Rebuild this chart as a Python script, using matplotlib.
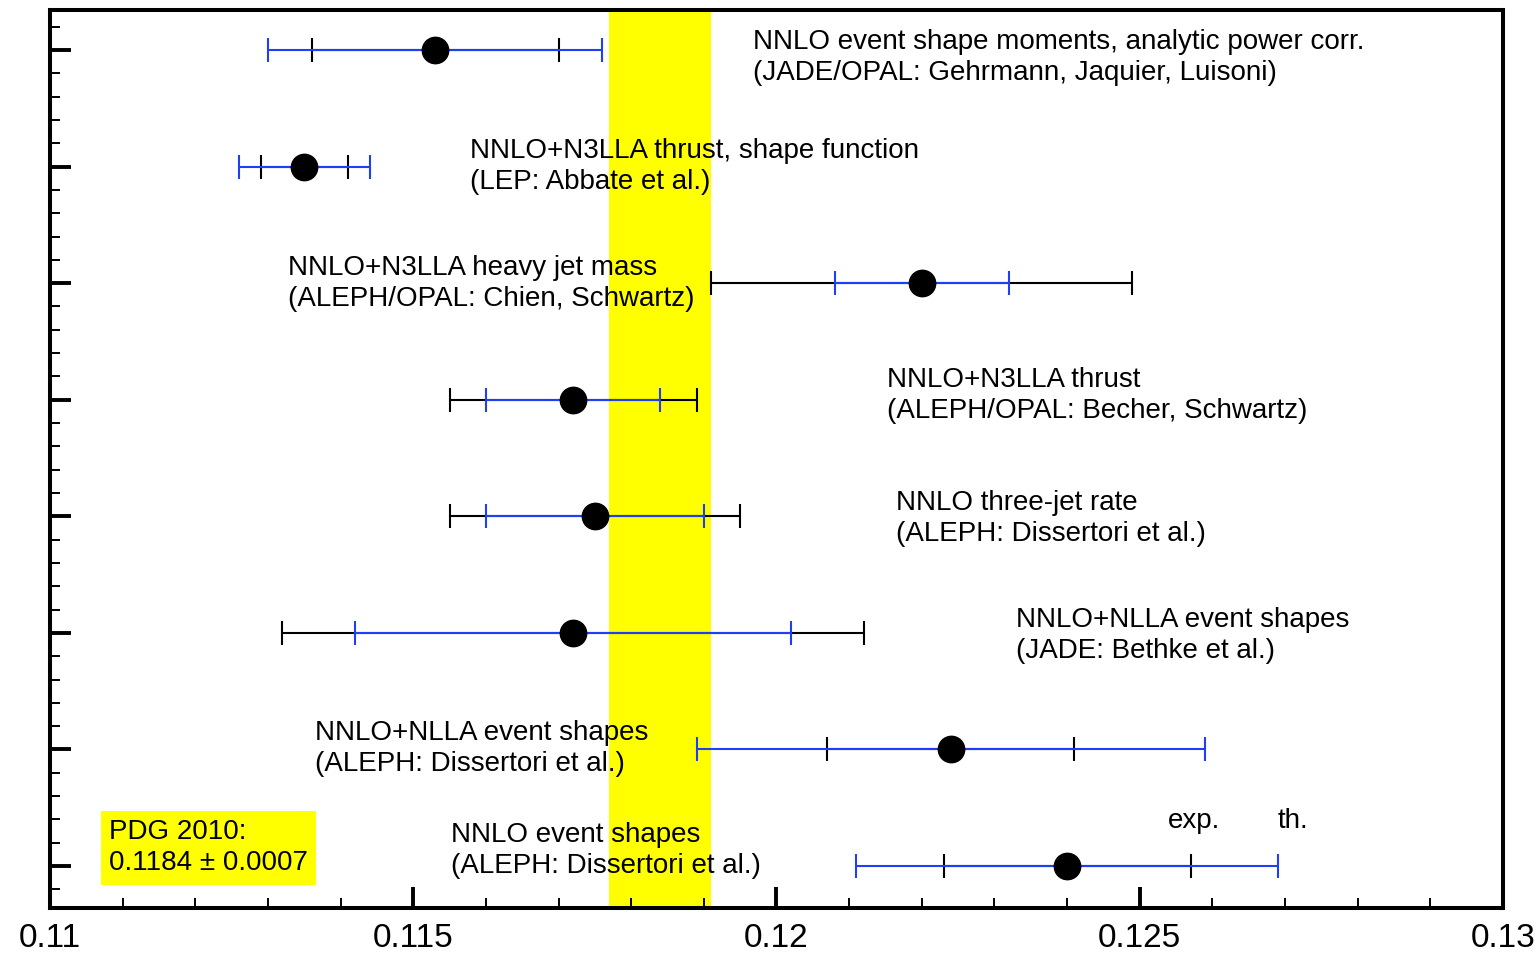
import matplotlib.pyplot as plt
from matplotlib.ticker import MultipleLocator, FixedLocator, FixedFormatter

plt.rcParams['font.family'] = ['Liberation Sans', 'DejaVu Sans']

# measurements, top to bottom
labels = [
    "NNLO event shape moments, analytic power corr.\n(JADE/OPAL: Gehrmann, Jaquier, Luisoni)",
    "NNLO+N3LLA thrust, shape function\n(LEP: Abbate et al.)",
    "NNLO+N3LLA heavy jet mass\n(ALEPH/OPAL: Chien, Schwartz)",
    "NNLO+N3LLA thrust\n(ALEPH/OPAL: Becher, Schwartz)",
    "NNLO three-jet rate\n(ALEPH: Dissertori et al.)",
    "NNLO+NLLA event shapes\n(JADE: Bethke et al.)",
    "NNLO+NLLA event shapes\n(ALEPH: Dissertori et al.)",
    "NNLO event shapes\n(ALEPH: Dissertori et al.)",
]
alphas = [0.1153, 0.1135, 0.1220, 0.1172, 0.1175, 0.1172, 0.1224, 0.1240]
err_exp = [0.0017, 0.0006, 0.0029, 0.0017, 0.0020, 0.0040, 0.0017, 0.0017]
err_th = [0.0023, 0.0009, 0.0012, 0.0012, 0.0015, 0.0030, 0.0035, 0.0029]

pdg_val = 0.1184
pdg_err = 0.0007

xticks = [0.11, 0.115, 0.12, 0.125, 0.13]
xticklabels = ["0.11", "0.115", "0.12", "0.125", "0.13"]

# label placement (x in data units, y offset from row)
label_x = [0.11968, 0.11578, 0.11328, 0.12152, 0.12164, 0.12330, 0.11365, 0.11552]
label_dy = [-0.065, 0.0, 0.0, 0.035, -0.015, -0.025, 0.01, 0.13]

rows = list(range(len(alphas), 0, -1))

fig = plt.figure(figsize=(15.4, 9.57), dpi=100)
ax = fig.add_axes([50 / 1540, 1 - 908 / 957, 1453 / 1540, 898 / 957])

ax.axvspan(pdg_val - pdg_err, pdg_val + pdg_err, color='#ffff00', lw=0, zorder=0)

blue = '#1f3ff5'
for y, a, e1, e2 in zip(rows, alphas, err_exp, err_th):
    ax.errorbar(a, y, xerr=e1, fmt='none', ecolor='black', elinewidth=1.5,
                capsize=8.5, capthick=1.5, zorder=2)
    ax.errorbar(a, y, xerr=e2, fmt='none', ecolor=blue, elinewidth=1.5,
                capsize=8.5, capthick=1.5, zorder=3)
    ax.plot(a, y, 'o', color='black', ms=19, zorder=4)

for y, lx, dy, txt in zip(rows, label_x, label_dy, labels):
    ax.text(lx, y + dy, txt, fontsize=20, ha='left', va='center',
            linespacing=1.25, zorder=5)

ax.text(0.12575, 1.39, "exp.", fontsize=20, ha='center', va='center', zorder=5)
ax.text(0.12711, 1.39, "th.", fontsize=20, ha='center', va='center', zorder=5)

ax.text(0.11081, 1.155, "PDG 2010:\n%.4f \u00b1 %.4f" % (pdg_val, pdg_err),
        fontsize=20, ha='left', va='center', linespacing=1.25, zorder=5,
        bbox=dict(boxstyle='square,pad=0.3', fc='#ffff00', ec='none'))

ax.set_xlim(0.11, 0.13)
ax.set_ylim(0.64, 8.343)

ax.xaxis.set_major_locator(FixedLocator(xticks))
ax.xaxis.set_major_formatter(FixedFormatter(xticklabels))
ax.xaxis.set_minor_locator(MultipleLocator(0.001))
ax.yaxis.set_major_locator(MultipleLocator(1))
ax.yaxis.set_minor_locator(MultipleLocator(0.2))

ax.tick_params(axis='both', which='both', direction='in', top=False, right=False)
ax.tick_params(axis='both', which='major', length=15, width=2.8)
ax.tick_params(axis='both', which='minor', length=7, width=1.4)
ax.tick_params(axis='x', which='major', labelsize=24, pad=11)
ax.tick_params(axis='y', which='both', labelleft=False)

for s in ax.spines.values():
    s.set_linewidth(2.9)

fig.savefig("out.png", dpi=100)
